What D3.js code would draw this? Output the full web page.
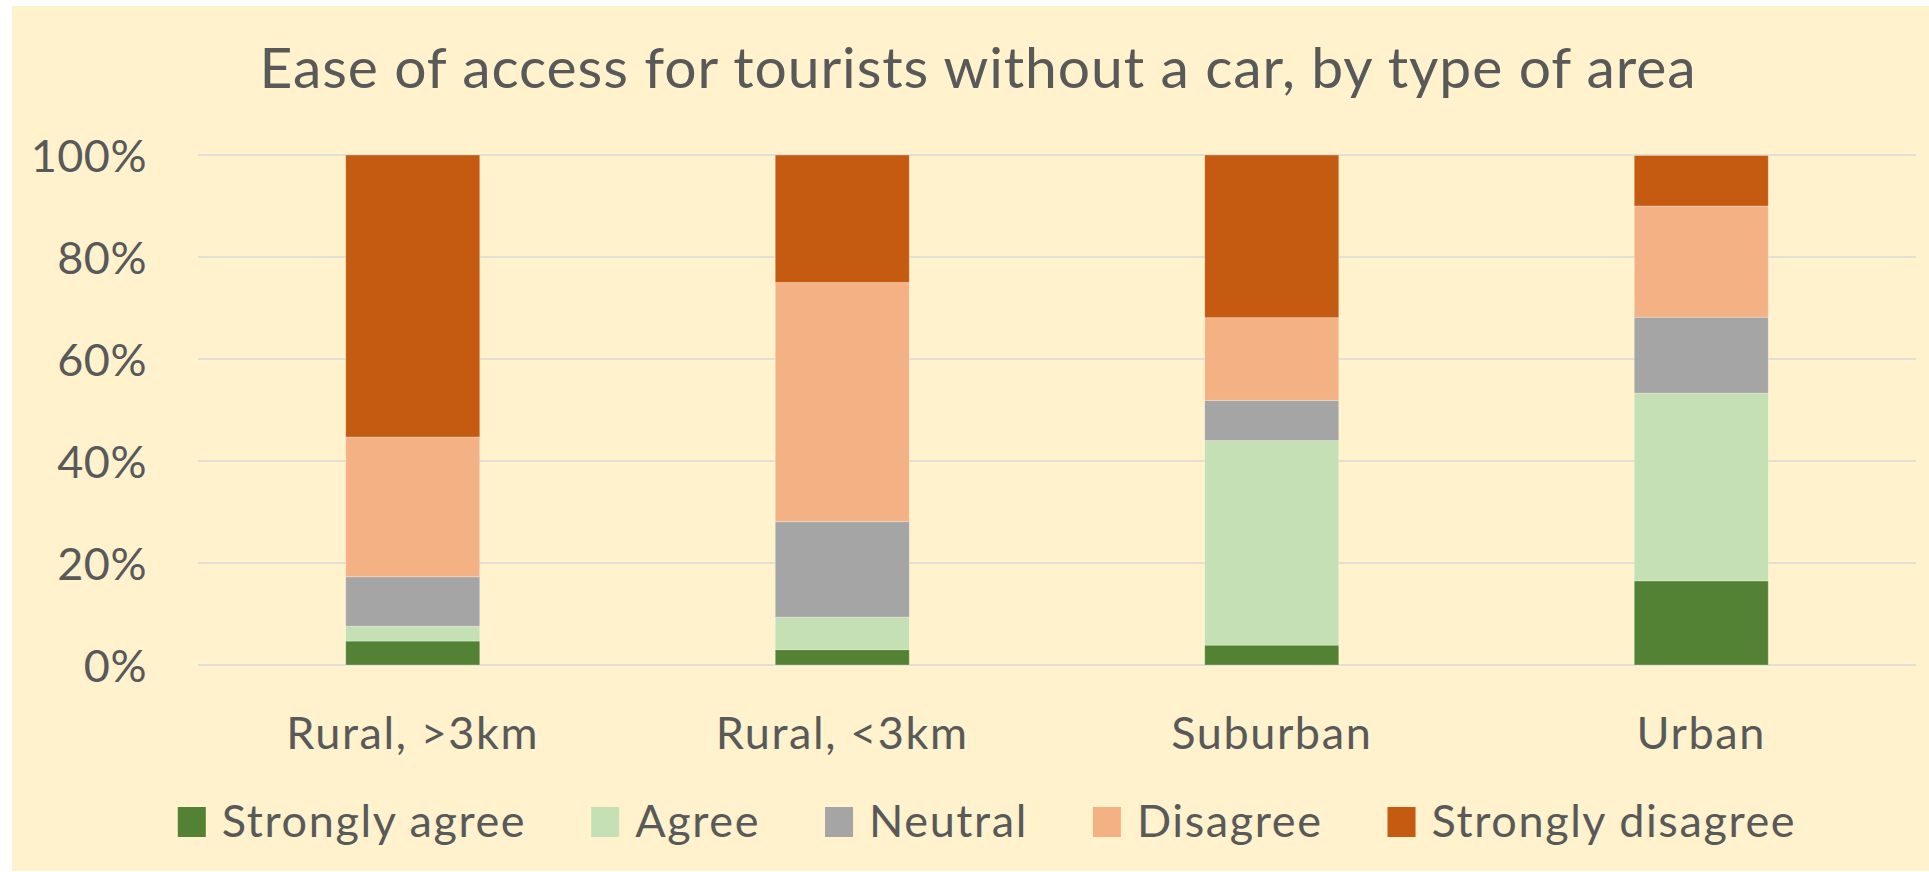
<!DOCTYPE html>
<html>
<head>
<meta charset="utf-8">
<script src="https://cdn.jsdelivr.net/npm/d3@7"></script>
<style>
  html, body { margin: 0; padding: 0; background: #fff; }
  text { font-family: Lato, "Open Sans", sans-serif; fill: #595959; }
</style>
</head>
<body>
<div id="chartContainer"></div>
<script>
// --- data ---
const areas = ["Rural, >3km", "Rural, <3km", "Suburban", "Urban"];
const responses = ["Strongly agree", "Agree", "Neutral", "Disagree", "Strongly disagree"];
const stronglyAgree = [4.7, 3.0, 3.9, 16.5];
const agree = [2.9, 6.4, 40.1, 36.8];
const neutral = [9.7, 18.7, 7.9, 14.9];
const disagree = [27.4, 46.9, 16.2, 21.8];
const stronglyDisagree = [55.3, 25.0, 31.9, 9.9];
const yTicks = [0, 20, 40, 60, 80, 100];
const colors = ["#548235", "#C5E0B4", "#A5A5A5", "#F4B183", "#C55A11"];

(function() {
    const fullWidth = 1929;
    const fullHeight = 872;
    const margin = {top: 155, right: 13, bottom: 207, left: 198};
    const width = fullWidth - margin.left - margin.right;
    const height = fullHeight - margin.top - margin.bottom;

    const svg = d3.select("#chartContainer").append("svg")
        .attr("width", fullWidth)
        .attr("height", fullHeight)
        .style("display", "block");

    // chart area background
    svg.append("rect")
        .attr("x", 12).attr("y", 6)
        .attr("width", fullWidth - 12).attr("height", fullHeight - 7)
        .attr("fill", "#FFF2CC");

    svg.append("text")
        .attr("x", 978)
        .attr("y", 88)
        .attr("text-anchor", "middle")
        .style("font-size", "57px")
        .style("letter-spacing", "0.9px")
        .text("Ease of access for tourists without a car, by type of area");

    const g = svg.append("g")
        .attr("transform", `translate(${margin.left},${margin.top})`);

    const x = d3.scaleBand()
        .domain(areas)
        .range([0, width])
        .paddingInner(0.688)
        .paddingOuter(0.344);

    const y = d3.scaleLinear()
        .domain([0, 100])
        .range([height, 0]);

    // gridlines
    g.append("g")
        .selectAll("line")
        .data(yTicks)
        .join("line")
          .attr("x1", 0).attr("x2", width)
          .attr("y1", d => y(d)).attr("y2", d => y(d))
          .attr("stroke", "#D9D9D9")
          .attr("stroke-width", 1.5);

    // y axis labels
    const yAxis = d3.axisLeft(y)
        .tickValues(yTicks)
        .tickSize(0)
        .tickPadding(51)
        .tickFormat(d => d + "%");
    g.append("g")
        .call(yAxis)
        .call(s => s.select(".domain").remove())
        .selectAll("text")
          .attr("dy", "0.36em")
          .style("font-size", "45px")
          .style("font-family", "Lato, sans-serif")
          .style("letter-spacing", "0.5px")
          .attr("fill", "#595959");

    // x axis labels
    const xAxis = d3.axisBottom(x).tickSize(0).tickPadding(52);
    g.append("g")
        .attr("transform", `translate(0,${height})`)
        .call(xAxis)
        .call(s => s.select(".domain").remove())
        .selectAll("text")
          .style("font-size", "45px")
          .style("font-family", "Lato, sans-serif")
          .style("letter-spacing", "1.6px")
          .attr("fill", "#595959");

    // stacked bars
    const table = areas.map((a, i) => ({
        area: a,
        "Strongly agree": stronglyAgree[i],
        "Agree": agree[i],
        "Neutral": neutral[i],
        "Disagree": disagree[i],
        "Strongly disagree": stronglyDisagree[i]
    }));
    const stack = d3.stack().keys(responses)(table);

    g.append("g")
        .selectAll("g")
        .data(stack)
        .join("g")
          .attr("fill", (d, i) => colors[i])
        .selectAll("rect")
        .data(d => d)
        .join("rect")
          .attr("x", d => x(d.data.area))
          .attr("width", x.bandwidth())
          .attr("y", d => y(d[1]))
          .attr("height", d => y(d[0]) - y(d[1]))
          .attr("stroke", "#ffffff")
          .attr("stroke-opacity", 0.35)
          .attr("stroke-width", 0.8);

    // legend
    const legend = svg.append("g");
    const items = legend.selectAll("g")
        .data(responses)
        .join("g");
    items.append("rect")
        .attr("y", 807)
        .attr("width", 28)
        .attr("height", 30)
        .attr("fill", (d, i) => colors[i]);
    items.append("text")
        .attr("x", 44)
        .attr("y", 837)
        .style("font-size", "45px")
        .style("letter-spacing", "1.6px")
        .text(d => d);

    let cursor = 0;
    const offsets = [];
    items.each(function() {
        const w = d3.select(this).select("text").node().getComputedTextLength();
        offsets.push(cursor);
        cursor += 44 + w + 65;
    });
    const total = cursor - 65;
    const start = 987 - total / 2;
    items.attr("transform", (d, i) => `translate(${start + offsets[i]},0)`);
})();
</script>
</body>
</html>
